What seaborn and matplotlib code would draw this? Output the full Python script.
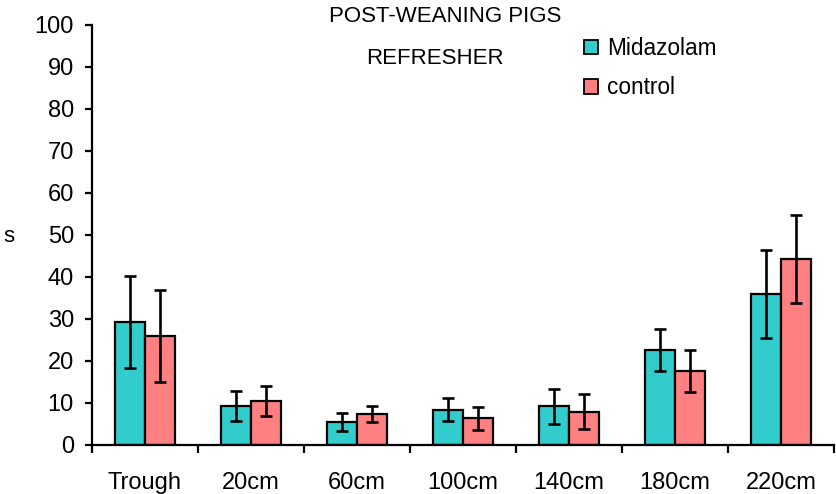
import numpy as np
import pandas as pd
import seaborn as sns
import matplotlib
matplotlib.use("Agg")
import matplotlib.pyplot as plt
from matplotlib.patches import Patch

# values (seconds)
categories = ["Trough", "20cm", "60cm", "100cm", "140cm", "180cm", "220cm"]
midazolam_mean = [29.2, 9.2, 5.4, 8.3, 9.1, 22.5, 35.9]
midazolam_err = [11.0, 3.6, 2.1, 2.7, 4.2, 5.0, 10.5]
control_mean = [25.9, 10.4, 7.4, 6.3, 7.9, 17.5, 44.3]
control_err = [10.9, 3.5, 1.9, 2.7, 4.2, 5.0, 10.5]

groups = ["Midazolam", "control"]
colors = {"Midazolam": "#33CCCC", "control": "#FF8080"}

df = pd.DataFrame({
    "position": categories * 2,
    "group": [groups[0]] * len(categories) + [groups[1]] * len(categories),
    "time": midazolam_mean + control_mean,
})
errs = [midazolam_err, control_err]

sns.set_theme(style="white")
plt.rcParams["font.family"] = ["Liberation Sans", "DejaVu Sans"]
plt.rcParams["text.color"] = "black"
plt.rcParams["xtick.color"] = "black"
plt.rcParams["ytick.color"] = "black"

fig = plt.figure(figsize=(8.36, 4.94), dpi=100)
ax = fig.add_axes([92 / 836, 0.0998, (834 - 92) / 836, 0.95 - 0.0998])

sns.barplot(data=df, x="position", y="time", hue="group", order=categories,
            hue_order=groups, palette=colors, width=0.565, gap=0,
            errorbar=None, edgecolor="black", linewidth=1.6, saturation=1,
            legend=False, ax=ax)

# error bars on top of seaborn's bars
for cont, err in zip(ax.containers, errs):
    xs = [b.get_x() + b.get_width() / 2 for b in cont]
    ys = [b.get_height() for b in cont]
    ax.errorbar(xs, ys, yerr=err, fmt="none", ecolor="black",
                elinewidth=1.9, capsize=4.5, capthick=1.9, zorder=5)

ax.set_ylim(0, 100)
ax.set_xlim(-0.5, len(categories) - 0.5)
ax.set_yticks(range(0, 101, 10))
ax.set_xlabel("")
ax.set_ylabel("")

sns.despine(ax=ax)
for s in ["left", "bottom"]:
    ax.spines[s].set_color("black")
    ax.spines[s].set_linewidth(1.6)

ax.tick_params(axis="y", which="major", direction="out", length=5, width=1.6,
               labelsize=17, pad=8, left=True)
ax.tick_params(axis="x", which="major", length=0, labelsize=17, pad=20)
ax.set_xticks(np.arange(-0.5, len(categories)), minor=True)
ax.tick_params(axis="x", which="minor", direction="out", length=6, width=1.6,
               bottom=True)

fig.text(9 / 836, 1 - 236 / 494, "s", fontsize=16, ha="center", va="center")
fig.text(445 / 836, 1 - 16 / 494, "POST-WEANING PIGS", fontsize=16,
         ha="center", va="center")
fig.text(435 / 836, 1 - 58 / 494, "REFRESHER", fontsize=16,
         ha="center", va="center")

handles = [Patch(facecolor=colors[g], edgecolor="black", linewidth=1.3) for g in groups]
fig.legend(handles, groups, loc="upper left",
           bbox_to_anchor=(584 / 836, 1 - 37 / 494), frameon=False,
           fontsize=16.3, handlelength=0.6, handleheight=0.6,
           handletextpad=0.4, labelspacing=0.72, borderpad=0, borderaxespad=0)

fig.savefig("out.png", dpi=100)
